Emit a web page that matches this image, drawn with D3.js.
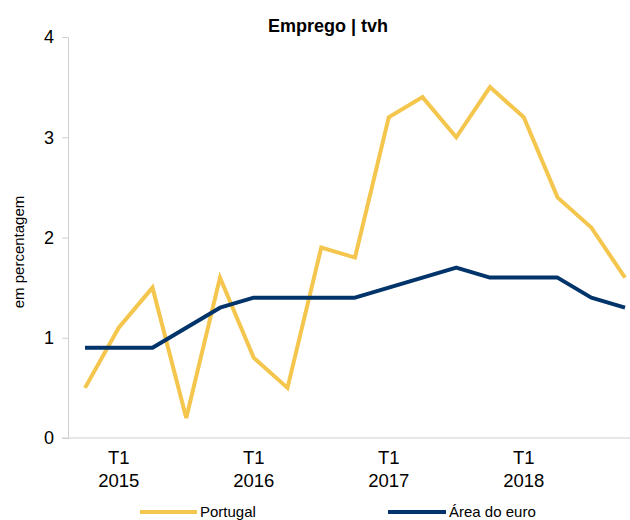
<!DOCTYPE html>
<html>
<head>
<meta charset="utf-8">
<script src="https://cdn.jsdelivr.net/npm/d3@7"></script>
<style>
  body { margin: 0; background: #fff; }
  text { font-family: "Liberation Sans", Arial, sans-serif; fill: #000; }
</style>
</head>
<body>
<svg id="canvas" width="630" height="520"></svg>
<script>
// quarters from T4 2014 to T4 2018
const quarters = ["2014T4",
  "2015T1", "2015T2", "2015T3", "2015T4",
  "2016T1", "2016T2", "2016T3", "2016T4",
  "2017T1", "2017T2", "2017T3", "2017T4",
  "2018T1", "2018T2", "2018T3", "2018T4"];
const portugal = [0.5, 1.1, 1.5, 0.2, 1.6, 0.8, 0.5, 1.9, 1.8, 3.2, 3.4, 3.0, 3.5, 3.2, 2.4, 2.1, 1.6];
const euroArea = [0.9, 0.9, 0.9, 1.1, 1.3, 1.4, 1.4, 1.4, 1.4, 1.5, 1.6, 1.7, 1.6, 1.6, 1.6, 1.4, 1.3];
const yTicks = [0, 1, 2, 3, 4];
const yearLabels = ["2015T1", "2016T1", "2017T1", "2018T1"];

const svg = d3.select("#canvas");

let x = d3.scalePoint().domain(quarters).range([85, 625]);
let y = d3.scaleLinear().domain([0, 4]).range([438, 37]);

// title
svg.append("text")
  .attr("x", 328).attr("y", 32)
  .attr("text-anchor", "middle")
  .style("font-size", "18px").style("font-weight", "bold")
  .text("Emprego | tvh");

// y axis
let yAxis = svg.append("g")
  .attr("transform", "translate(68,0)")
  .call(d3.axisLeft(y).tickValues(yTicks).tickFormat(d3.format("d")).tickSize(6).tickPadding(8));
yAxis.select(".domain").attr("stroke", "#d0d0d0");
yAxis.selectAll(".tick line").attr("stroke", "#d0d0d0");
yAxis.selectAll(".tick text").style("font-size", "18px")
  .style("font-family", "Liberation Sans, Arial, sans-serif");

// x axis line
svg.append("line")
  .attr("x1", 62).attr("x2", 630)
  .attr("y1", y(0)).attr("y2", y(0))
  .attr("stroke", "#d0d0d0");

// x labels
let xl = svg.append("g").selectAll("text")
  .data(yearLabels)
  .enter().append("text")
  .attr("text-anchor", "middle")
  .style("font-size", "18.5px");
xl.append("tspan").attr("x", d => x(d)).attr("y", 464).text("T1");
xl.append("tspan").attr("x", d => x(d)).attr("y", 487).text(d => d.slice(0, 4));

// y label
svg.append("text")
  .attr("transform", "translate(24,252) rotate(-90)")
  .attr("text-anchor", "middle")
  .style("font-size", "15px")
  .text("em percentagem");

// lines
let line = d3.line().x((d, i) => x(quarters[i])).y(d => y(d));

svg.append("path").datum(portugal)
  .attr("fill", "none").attr("stroke", "#F4C64E")
  .attr("stroke-width", 4).attr("stroke-linejoin", "miter")
  .attr("d", line);

svg.append("path").datum(euroArea)
  .attr("fill", "none").attr("stroke", "#00346A")
  .attr("stroke-width", 4).attr("stroke-linejoin", "round")
  .attr("d", line);

// legend
let legend = [
  { name: "Portugal", color: "#F4C64E", x1: 140, x2: 197 },
  { name: "Área do euro", color: "#00346A", x1: 388, x2: 446 }
];
let lg = svg.append("g").selectAll("g").data(legend).enter().append("g");
lg.append("line")
  .attr("x1", d => d.x1).attr("x2", d => d.x2)
  .attr("y1", 512).attr("y2", 512)
  .attr("stroke", d => d.color).attr("stroke-width", 4);
lg.append("text")
  .attr("x", d => d.x2 + 3).attr("y", 517)
  .style("font-size", "15px")
  .text(d => d.name);
</script>
</body>
</html>
